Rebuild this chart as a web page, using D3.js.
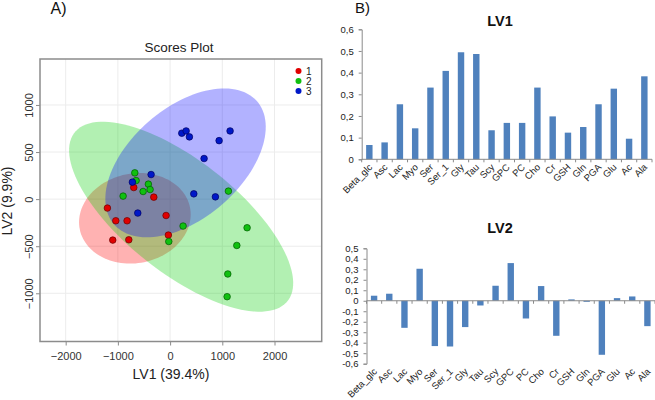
<!DOCTYPE html>
<html><head><meta charset="utf-8">
<script src="https://cdn.jsdelivr.net/npm/d3@7"></script>
<style>
body{margin:0;background:#fff;}
svg{display:block;font-family:"Liberation Sans",Arial,sans-serif;}
</style></head>
<body><svg id="c" width="655" height="400"></svg>
<script>
// ---- Scores plot data (LV1, LV2) ----
const groups = ["1", "2", "3"];
const group1LV1 = [-696, -312, -1201, -1040, -824, -77, -33, -1098, -791];
const group1LV2 = [123, 21, -95, -230, -230, -174, -382, -435, -432];
const group2LV1 = [-676, -651, -416, -383, -517, -900, 1117, 249, -25, 1475, 1278, 1105, 1092];
const group2LV2 = [279, 197, 159, 102, 81, 32, 85, -286, -450, -304, -492, -795, -1036];
const group3LV1 = [224, 307, 370, 939, 1149, 651, 454, 868, -364, -722, -619];
const group3LV2 = [700, 724, 661, 621, 724, 431, 56, 24, 261, 180, -148];
const scoreXTicks = [-2000, -1000, 0, 1000, 2000];
const scoreYTicks = [-1000, -500, 0, 500, 1000];

// ---- Loadings ----
const metabolites = ["Beta_glc","Asc","Lac","Myo","Ser","Ser_1","Gly","Tau","Scy","GPC","PC","Cho","Cr","GSH","Gln","PGA","Glu","Ac","Ala"];
const lv1Loadings = [0.066,0.078,0.254,0.143,0.331,0.408,0.494,0.486,0.134,0.168,0.168,0.331,0.198,0.123,0.149,0.254,0.326,0.095,0.383];
const lv2Loadings = [0.048,0.067,-0.258,0.305,-0.432,-0.436,-0.251,-0.045,0.143,0.359,-0.169,0.14,-0.334,0.013,-0.01,-0.515,0.025,0.041,-0.242];
const lv1Ticks = [0,0.1,0.2,0.3,0.4,0.5,0.6];
const lv2Ticks = [-0.6,-0.5,-0.4,-0.3,-0.2,-0.1,0,0.1,0.2,0.3,0.4,0.5];

const svg = d3.select("#c");

// ===================== Panel A =====================
const sx = d3.scaleLinear().domain([-2492, 2904]).range([40, 321.7]);
const sy = d3.scaleLinear().domain([-1512, 1488]).range([341.5, 59]);
const fills = ["rgb(255,0,0)", "rgb(0,205,0)", "rgb(0,0,255)"];
const ptFills = ["#e00000", "#10c010", "#0018c8"];
const ptStroke = ["#6a0000", "#005a00", "#000060"];

const A = svg.append("g");
// grid
A.selectAll(".gx").data(scoreXTicks).join("line")
  .attr("x1", d => sx(d)).attr("x2", d => sx(d)).attr("y1", 59).attr("y2", 341.5)
  .attr("stroke", "#ececec").attr("stroke-width", 1);
A.selectAll(".gy").data(scoreYTicks).join("line")
  .attr("y1", d => sy(d)).attr("y2", d => sy(d)).attr("x1", 40).attr("x2", 321.7)
  .attr("stroke", "#ececec").attr("stroke-width", 1);

const groupData = [
  d3.zip(group1LV1, group1LV2),
  d3.zip(group2LV1, group2LV2),
  d3.zip(group3LV1, group3LV2)
];

function ellipsePts(pts) {
  const n = pts.length;
  const mx = d3.mean(pts, d => d[0]), my = d3.mean(pts, d => d[1]);
  let sxx = 0, syy = 0, sxy = 0;
  pts.forEach(([x, y]) => { sxx += (x-mx)**2; syy += (y-my)**2; sxy += (x-mx)*(y-my); });
  sxx /= n-1; syy /= n-1; sxy /= n-1;
  const s1 = Math.sqrt(sxx), s2 = Math.sqrt(syy), r = sxy/(s1*s2), dd = Math.acos(r);
  const t = Math.sqrt(5.991464547); // chi-square 0.95, 2 df
  return d3.range(0, 121).map(i => {
    const a = 2*Math.PI*i/120;
    return [mx + t*s1*Math.cos(a + dd/2), my + t*s2*Math.cos(a - dd/2)];
  });
}
const line = d3.line().x(d => sx(d[0])).y(d => sy(d[1]));
groupData.forEach((pts, i) => {
  A.append("path").attr("d", line(ellipsePts(pts)) + "Z")
    .attr("fill", fills[i]).attr("fill-opacity", 0.3).attr("stroke", "none");
});
groupData.forEach((pts, i) => {
  A.selectAll(null).data(pts).join("circle")
    .attr("cx", d => sx(d[0])).attr("cy", d => sy(d[1])).attr("r", 3.3)
    .attr("fill", ptFills[i]).attr("stroke", ptStroke[i]).attr("stroke-width", 0.7);
});
// box
A.append("rect").attr("x", 40).attr("y", 59).attr("width", 281.7).attr("height", 282.5)
  .attr("fill", "none").attr("stroke", "#8c8c8c").attr("stroke-width", 1.5);

// axes
const ax = A.append("g").attr("transform", "translate(0,341.5)")
  .call(d3.axisBottom(sx).tickValues(scoreXTicks).tickSize(4).tickFormat(d3.format("d")));
ax.select(".domain").remove();
ax.selectAll("line").attr("stroke", "#8c8c8c");
ax.selectAll("text").attr("y", 18.5).attr("dy", 0).attr("font-size", 11).attr("fill", "#333");
const ay = A.append("g").attr("transform", "translate(40,0)")
  .call(d3.axisLeft(sy).tickValues(scoreYTicks).tickSize(4).tickFormat(d3.format("d")));
ay.select(".domain").remove();
ay.selectAll("line").attr("stroke", "#8c8c8c");
ay.selectAll("text").attr("transform", "rotate(-90)").attr("x", 0).attr("y", -7).attr("dy", 0)
  .attr("text-anchor", "middle").attr("font-size", 11).attr("fill", "#333");

A.append("text").attr("x", 179).attr("y", 52).attr("text-anchor", "middle")
  .attr("font-size", 13.5).attr("fill", "#222").text("Scores Plot");
A.append("text").attr("x", 171).attr("y", 379).attr("text-anchor", "middle")
  .attr("font-size", 14).attr("fill", "#222").text("LV1 (39.4%)");
A.append("text").attr("transform", "translate(12,201) rotate(-90)").attr("text-anchor", "middle")
  .attr("font-size", 14).attr("fill", "#222").text("LV2 (9.9%)");
A.append("text").attr("x", 50.5).attr("y", 13.5).attr("font-size", 16).attr("fill", "#111").text("A)");

// legend
const lg = A.append("g");
groups.forEach((g, i) => {
  lg.append("circle").attr("cx", 298.5).attr("cy", 71 + i*10).attr("r", 3)
    .attr("fill", ptFills[i]);
  lg.append("text").attr("x", 306).attr("y", 71 + i*10 + 3.6).attr("font-size", 10)
    .attr("fill", "#222").text(g);
});

// ===================== Panel B =====================
svg.append("text").attr("x", 355).attr("y", 13).attr("font-size", 15).attr("fill", "#111").text("B)");
const barColor = "#4f81bd";
const fmt = v => v === 0 ? "0" : d3.format(".1f")(v).replace(".", ",").replace("−", "-");

function barChart(vals, ticks, x0, x1, yBottom, yTop, dom, title, titleY, labelAtZero) {
  const g = svg.append("g");
  const xb = d3.scaleBand().domain(metabolites).range([x0, x1]).paddingInner(0.58).paddingOuter(0.29);
  const y = d3.scaleLinear().domain(dom).range([yBottom, yTop]);
  g.selectAll("rect").data(vals).join("rect")
    .attr("x", (d, i) => xb(metabolites[i])).attr("width", xb.bandwidth())
    .attr("y", d => y(Math.max(0, d))).attr("height", d => Math.abs(y(d) - y(0)))
    .attr("fill", barColor);
  const yax = g.append("g").attr("transform", `translate(${x0},0)`)
    .call(d3.axisLeft(y).tickValues(ticks).tickSize(3).tickPadding(5).tickFormat(fmt));
  yax.select(".domain").attr("stroke", "#8a8a8a");
  yax.selectAll("line").attr("stroke", "#8a8a8a");
  yax.selectAll("text").attr("font-size", 9.5).attr("fill", "#222");
  // zero line with boundary ticks
  g.append("line").attr("x1", x0).attr("x2", x1).attr("y1", y(0)).attr("y2", y(0))
    .attr("stroke", "#8a8a8a");
  const step = xb.step();
  g.selectAll(".bt").data(d3.range(metabolites.length + 1)).join("line")
    .attr("x1", i => x0 + i*step).attr("x2", i => x0 + i*step)
    .attr("y1", y(0)).attr("y2", y(0) + 3).attr("stroke", "#8a8a8a");
  const ly = labelAtZero ? y(0) : yBottom;
  g.selectAll(".lb").data(metabolites).join("text")
    .attr("transform", d => `translate(${xb(d) + xb.bandwidth()/2 + 3.5},${ly + 8.5}) rotate(-45)`)
    .attr("text-anchor", "end").attr("font-size", 9.5).attr("fill", "#222").text(d => d);
  svg.append("text").attr("x", 500).attr("y", titleY).attr("text-anchor", "middle")
    .attr("font-size", 14.5).attr("font-weight", "bold").attr("fill", "#111").text(title);
}
barChart(lv1Loadings, lv1Ticks, 361.7, 652, 159.3, 29.3, [0, 0.6], "LV1", 26, true);
barChart(lv2Loadings, lv2Ticks, 366.5, 655, 363.7, 248.3, [-0.6, 0.5], "LV2", 233, false);
</script></body></html>
